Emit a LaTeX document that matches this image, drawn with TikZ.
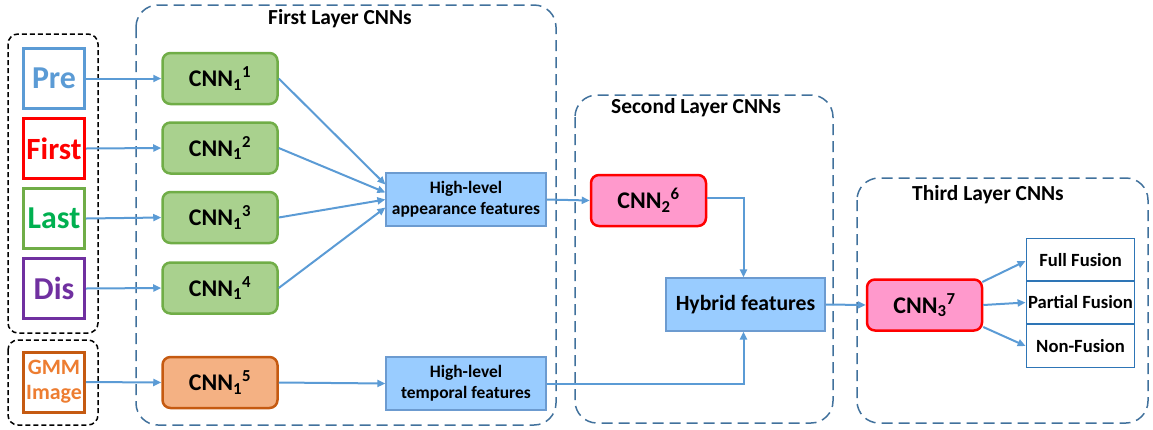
\documentclass[tikz,border=0pt]{standalone}
\usepackage{fontspec}
\setmainfont{Carlito}
\usetikzlibrary{arrows.meta}
\definecolor{arrblue}{HTML}{5B9BD5}
\definecolor{preblue}{HTML}{5B9BD5}
\definecolor{lastborder}{HTML}{70AD47}
\definecolor{lasttext}{HTML}{00B050}
\definecolor{dispurple}{HTML}{7030A0}
\definecolor{gmmborder}{HTML}{C55A11}
\definecolor{gmmtext}{HTML}{ED7D31}
\definecolor{cnngreen}{HTML}{A9D18E}
\definecolor{cnnorange}{HTML}{F4B183}
\definecolor{featfill}{HTML}{99CCFF}
\definecolor{featborder}{HTML}{6C9BD0}
\definecolor{pinkfill}{HTML}{FF99CC}
\definecolor{layerdash}{HTML}{41719C}
\definecolor{outborder}{HTML}{2E75B6}
\tikzset{
  inbox/.style={draw, line width=3bp, fill=white, minimum width=61bp, minimum height=60bp, inner sep=0pt, font=\bfseries\fontsize{32}{34}\selectfont},
  cnnbox/.style={draw, line width=2.5bp, rounded corners=8bp, minimum width=115bp, minimum height=51bp, inner sep=0pt, font=\bfseries\fontsize{24}{26}\selectfont},
  featbox/.style={draw=featborder, fill=featfill, line width=1.2bp, minimum width=160bp, minimum height=53bp, inner sep=0pt, align=center, font=\bfseries\fontsize{17.5}{21}\selectfont},
  groupbox/.style={draw=black, dashed, line width=1.5bp, rounded corners=10bp, dash pattern=on 5bp off 3bp},
  layerbox/.style={draw=layerdash, line width=1.5bp, rounded corners=22bp, dash pattern=on 11bp off 6bp},
  title/.style={font=\bfseries\fontsize{21.5}{23}\selectfont},
  outbox/.style={draw=outborder, line width=1.8bp, fill=white, minimum width=108bp, minimum height=43bp, inner sep=0pt, font=\bfseries\fontsize{18.7}{20}\selectfont},
  arr/.style={draw=arrblue, line width=2bp, -{Triangle[length=8bp,width=7bp]}, arrblue}
}
\begin{document}
\begin{tikzpicture}[x=1bp,y=-1bp]
\useasboundingbox (0,0) rectangle (1153,429);
% layer boxes
\draw[layerbox] (136,5) rectangle (556,425);
\draw[layerbox] (575,95) rectangle (833,423);
\draw[layerbox] (857,178) rectangle (1148,423);
\node[title] (t1) at (340,19) {First Layer CNNs};
\node[title] (t2) at (696,108) {Second Layer CNNs};
\node[title] (t3) at (988,195) {Third Layer CNNs};
% group boxes
\draw[groupbox] (8,34) rectangle (98,333);
\draw[groupbox] (8,340) rectangle (98,425);
% inputs
\node[inbox, draw=preblue, text=preblue] (pre) at (54,78.5) {Pre};
\node[inbox, draw=red, text=red, font=\bfseries\fontsize{31}{33}\selectfont] (first) at (54,148.5) {First};
\node[inbox, draw=lastborder, text=lasttext] (last) at (54,218.5) {Last};
\node[inbox, draw=dispurple, text=dispurple] (dis) at (54,288.5) {Dis};
\node[inbox, draw=gmmborder, text=gmmtext, align=center, font=\bfseries\fontsize{22}{25}\selectfont] (gmm) at (54,382) {GMM\\Image};
% first layer cnns
\node[cnnbox, draw=lastborder, fill=cnngreen] (c1) at (220,78.5) {CNN\textsubscript{1}\textsuperscript{1}};
\node[cnnbox, draw=lastborder, fill=cnngreen] (c2) at (220,148) {CNN\textsubscript{1}\textsuperscript{2}};
\node[cnnbox, draw=lastborder, fill=cnngreen] (c3) at (220,217.5) {CNN\textsubscript{1}\textsuperscript{3}};
\node[cnnbox, draw=lastborder, fill=cnngreen] (c4) at (220,288) {CNN\textsubscript{1}\textsuperscript{4}};
\node[cnnbox, draw=gmmborder, fill=cnnorange] (c5) at (220,382.5) {CNN\textsubscript{1}\textsuperscript{5}};
% features
\node[featbox] (app) at (466,199.5) {High-level\\appearance features};
\node[featbox] (temp) at (466,383.5) {High-level\\temporal features};
% second layer
\node[cnnbox, draw=red, fill=pinkfill, minimum width=115bp] (c6) at (648.5,200.5) {CNN\textsubscript{2}\textsuperscript{6}};
\node[featbox, minimum width=159bp, font=\bfseries\fontsize{21.8}{23}\selectfont] (hyb) at (745.5,304.5) {Hybrid features};
% third layer
\node[cnnbox, draw=red, fill=pinkfill] (c7) at (924.5,305) {CNN\textsubscript{3}\textsuperscript{7}};
\node[outbox] (o1) at (1080.5,260) {Full Fusion};
\node[outbox] (o2) at (1080.5,302.5) {Partial Fusion};
\node[outbox] (o3) at (1080.5,346) {Non-Fusion};
% arrows inputs
\draw[arr] (pre.east) -- (c1.west);
\draw[arr] (first.east) -- (c2.west);
\draw[arr] (last.east) -- (c3.west);
\draw[arr] (dis.east) -- (c4.west);
\draw[arr] (gmm.east) -- (c5.west);
% fan in
\draw[arr] (c1.east) -- ([yshift=15bp]app.west);
\draw[arr] (c2.east) -- ([yshift=7bp]app.west);
\draw[arr] (c3.east) -- ([yshift=0bp]app.west);
\draw[arr] (c4.east) -- ([yshift=-8bp]app.west);
\draw[arr] (c5.east) -- (temp.west);
\draw[arr] (app.east) -- (c6.west);
\draw[arr] ([yshift=3bp]c6.east) -| ([xshift=-2bp]hyb.north);
\draw[arr] (temp.east) -| ([xshift=-2bp]hyb.south);
\draw[arr] (hyb.east) -- (c7.west);
\draw[arr] ([yshift=23bp,xshift=-1bp]c7.east) -- ([yshift=-1bp]o1.west);
\draw[arr] (c7.east) -- (o2.west);
\draw[arr] ([yshift=-22bp]c7.east) -- (o3.west);
\end{tikzpicture}
\end{document}
